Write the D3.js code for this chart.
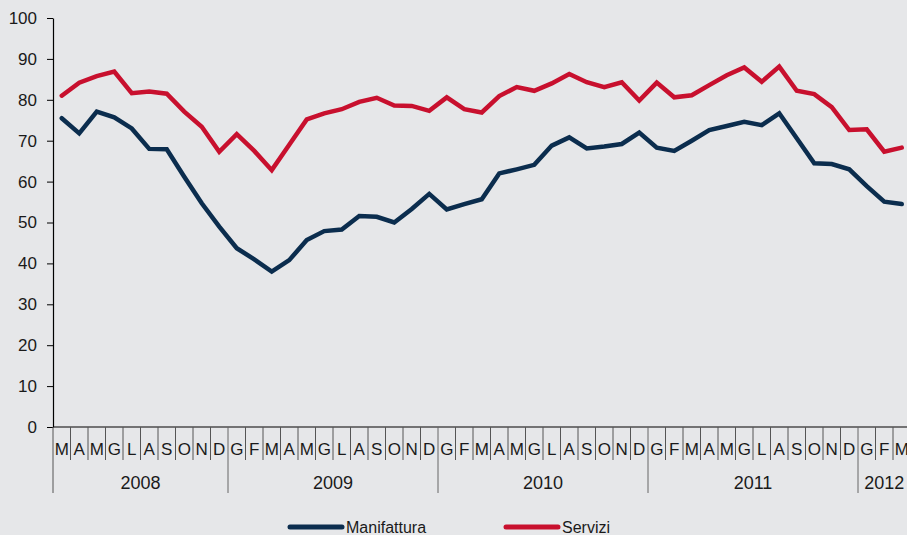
<!DOCTYPE html>
<html>
<head>
<meta charset="utf-8">
<script src="https://cdn.jsdelivr.net/npm/d3@7"></script>
<style>
  html, body { margin: 0; padding: 0; background: #e6e7e9; overflow: hidden; }
  svg { display: block; font-family: "Liberation Sans", Arial, sans-serif; }
  .axis text { fill: #1a1a1a; font-size: 17px; }
  .years text { font-size: 18px; }
  .legend text { font-size: 16px; }
</style>
</head>
<body>
<div id="chart"></div>
<script>
// monthly labels, March 2008 .. March 2012
const months = ['M','A','M','G','L','A','S','O','N','D',
  'G','F','M','A','M','G','L','A','S','O','N','D',
  'G','F','M','A','M','G','L','A','S','O','N','D',
  'G','F','M','A','M','G','L','A','S','O','N','D',
  'G','F','M'];
const years = [
  { label: '2008', start: 0, end: 10 },
  { label: '2009', start: 10, end: 22 },
  { label: '2010', start: 22, end: 34 },
  { label: '2011', start: 34, end: 46 },
  { label: '2012', start: 46, end: 49 }
];
const manifattura = [75.5, 71.8, 77.1, 75.7, 73.0, 68.0, 67.9, 61.2, 54.7, 49.0,
  43.7, 41.0, 38.0, 40.8, 45.7, 47.9, 48.3, 51.6, 51.4, 50.0, 53.3, 57.0,
  53.2, 54.5, 55.7, 62.0, 63.0, 64.1, 68.8, 70.8, 68.1, 68.6, 69.2, 72.0,
  68.3, 67.5, 70.0, 72.6, 73.6, 74.6, 73.8, 76.7, 70.6, 64.5, 64.3, 63.0,
  58.9, 55.1, 54.5];
const servizi = [81.0, 84.2, 85.8, 86.9, 81.6, 82.0, 81.5, 77.1, 73.4, 67.3,
  71.6, 67.5, 62.8, 69.0, 75.2, 76.7, 77.7, 79.5, 80.5, 78.6, 78.5, 77.3,
  80.6, 77.7, 76.9, 80.9, 83.1, 82.2, 84.0, 86.3, 84.3, 83.1, 84.3, 79.8,
  84.2, 80.6, 81.1, 83.6, 86.0, 87.9, 84.4, 88.1, 82.2, 81.4, 78.2, 72.6,
  72.8, 67.3, 68.3];
const yTicks = [0, 10, 20, 30, 40, 50, 60, 70, 80, 90, 100];

const series = [
  { name: 'Manifattura', values: manifattura, color: '#0b2d4e' },
  { name: 'Servizi', values: servizi, color: '#c8102e' }
];

const width = 907, height = 535;
const plotLeft = 53, plotTop = 18, plotBottom = 427;
const step = 17.5;

const svg = d3.select('#chart').append('svg')
  .attr('width', width)
  .attr('height', height);

const x = d3.scaleBand()
  .domain(d3.range(months.length))
  .range([plotLeft, plotLeft + months.length * step])
  .padding(0);

const y = d3.scaleLinear()
  .domain([0, 100])
  .range([plotBottom, plotTop]);

// y axis
const yAxis = svg.append('g')
  .attr('class', 'axis')
  .attr('transform', 'translate(' + plotLeft + ',0)')
  .call(d3.axisLeft(y).tickValues(yTicks).tickSize(6).tickPadding(10).tickSizeOuter(0));
yAxis.select('.domain').attr('stroke', '#000').attr('stroke-width', 1.2);
yAxis.selectAll('.tick line').attr('stroke', '#000');
yAxis.selectAll('.tick text').attr('font-size', null);

// x baseline
svg.append('line')
  .attr('x1', plotLeft).attr('x2', width)
  .attr('y1', plotBottom).attr('y2', plotBottom)
  .attr('stroke', '#000').attr('stroke-width', 1.2);

// month separators
const yearStarts = years.map(d => d.start);
svg.append('g')
  .selectAll('line')
  .data(d3.range(1, months.length))
  .enter().append('line')
  .attr('x1', d => x(d)).attr('x2', d => x(d))
  .attr('y1', plotBottom)
  .attr('y2', d => yearStarts.includes(d) ? 493 : 460)
  .attr('stroke', d => yearStarts.includes(d) ? '#666' : '#555')
  .attr('stroke-width', 1);

svg.append('line')
  .attr('x1', plotLeft).attr('x2', plotLeft)
  .attr('y1', plotBottom).attr('y2', 493)
  .attr('stroke', '#555');

// month labels
svg.append('g')
  .attr('class', 'axis')
  .selectAll('text')
  .data(months)
  .enter().append('text')
  .attr('x', (d, i) => x(i) + x.bandwidth() / 2)
  .attr('y', 455)
  .attr('text-anchor', 'middle')
  .text(d => d);

// year labels
svg.append('g')
  .attr('class', 'axis years')
  .selectAll('text')
  .data(years)
  .enter().append('text')
  .attr('x', d => (x(d.start) + x(d.end - 1) + x.bandwidth()) / 2)
  .attr('y', 489)
  .attr('text-anchor', 'middle')
  .text(d => d.label);

// lines
const line = d3.line()
  .x((d, i) => x(i) + x.bandwidth() / 2)
  .y(d => y(d));

svg.append('g')
  .selectAll('path')
  .data(series)
  .enter().append('path')
  .attr('d', d => line(d.values))
  .attr('fill', 'none')
  .attr('stroke', d => d.color)
  .attr('stroke-width', 4.5)
  .attr('stroke-linejoin', 'miter')
  .attr('stroke-linecap', 'round');

// legend
const legend = svg.append('g')
  .attr('class', 'axis legend')
  .selectAll('g')
  .data(series)
  .enter().append('g')
  .attr('transform', (d, i) => 'translate(' + [290, 506][i] + ',527)');

legend.append('line')
  .attr('x1', 0).attr('x2', 52)
  .attr('stroke', d => d.color)
  .attr('stroke-width', 5)
  .attr('stroke-linecap', 'round');

legend.append('text')
  .attr('x', 56)
  .attr('y', 6)
  .text(d => d.name);
</script>
</body>
</html>
